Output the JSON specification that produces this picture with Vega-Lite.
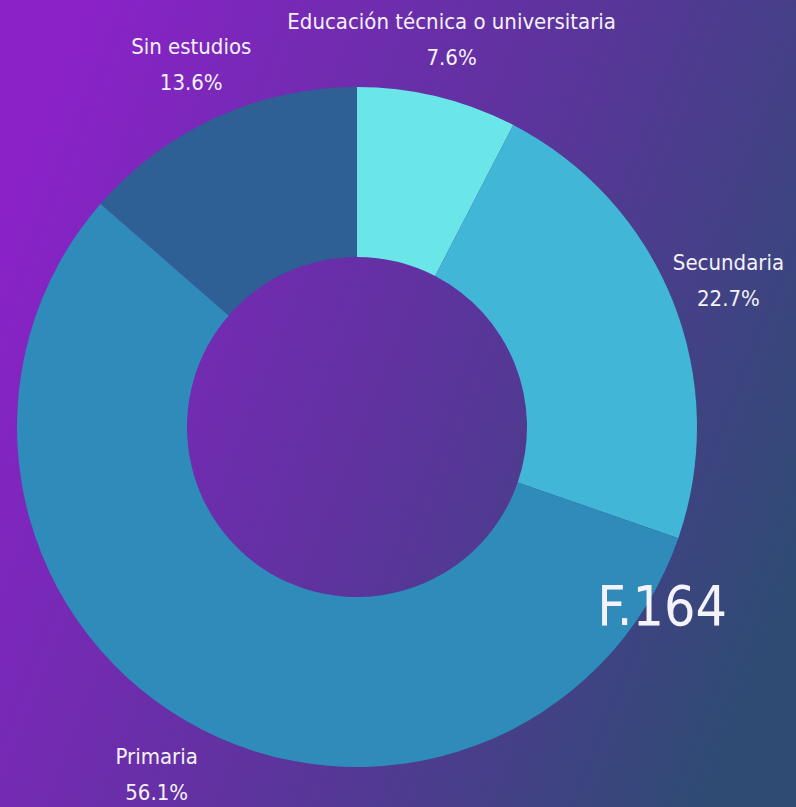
{
  "$schema": "https://vega.github.io/schema/vega-lite/v6.json",
  "width": 796,
  "height": 807,
  "autosize": {"type": "fit", "contains": "padding"},
  "padding": 0,
  "background": "#5a3a9c",
  "config": {"view": {"stroke": null}},
  "data": {
    "values": [
      {"nivel": "Educación técnica o universitaria", "pct": 7.6, "etiqueta": "7.6%", "orden": 1},
      {"nivel": "Secundaria", "pct": 22.7, "etiqueta": "22.7%", "orden": 2},
      {"nivel": "Primaria", "pct": 56.1, "etiqueta": "56.1%", "orden": 3},
      {"nivel": "Sin estudios", "pct": 13.6, "etiqueta": "13.6%", "orden": 4}
    ]
  },
  "layer": [
    {
      "mark": {
        "type": "rect",
        "color": {
          "gradient": "linear",
          "x1": 0, "y1": 0.3, "x2": 1, "y2": 0.7,
          "stops": [
            {"offset": 0, "color": "#8a22c8"},
            {"offset": 0.5, "color": "#5e339e"},
            {"offset": 1, "color": "#2f4b74"}
          ]
        }
      },
      "encoding": {}
    },
    {
      "mark": {"type": "arc", "outerRadius": 340, "innerRadius": 170},
      "encoding": {
        "theta": {"field": "pct", "type": "quantitative", "stack": true},
        "order": {"field": "orden", "type": "quantitative"},
        "x": {"value": 357},
        "y": {"value": 427},
        "color": {
          "field": "nivel",
          "type": "nominal",
          "legend": null,
          "scale": {
            "domain": ["Educación técnica o universitaria", "Secundaria", "Primaria", "Sin estudios"],
            "range": ["#6ae6e8", "#42b6d6", "#2e8bba", "#2e6096"]
          }
        }
      }
    },
    {
      "mark": {"type": "text", "radius": 400, "font": "'DejaVu Sans Condensed', 'Liberation Sans Narrow', 'Noto Sans', sans-serif", "fontSize": 22, "color": "#f4f2fa", "align": "center", "baseline": "alphabetic", "dy": -9},
      "encoding": {
        "theta": {"field": "pct", "type": "quantitative", "stack": true},
        "order": {"field": "orden", "type": "quantitative"},
        "x": {"value": 357},
        "y": {"value": 427},
        "text": {"field": "nivel"}
      }
    },
    {
      "mark": {"type": "text", "radius": 400, "font": "'DejaVu Sans Condensed', 'Liberation Sans Narrow', 'Noto Sans', sans-serif", "fontSize": 22, "color": "#f4f2fa", "align": "center", "baseline": "alphabetic", "dy": 27},
      "encoding": {
        "theta": {"field": "pct", "type": "quantitative", "stack": true},
        "order": {"field": "orden", "type": "quantitative"},
        "x": {"value": 357},
        "y": {"value": 427},
        "text": {"field": "etiqueta"}
      }
    },
    {
      "data": {"values": [{"marca": "F.164"}]},
      "mark": {"type": "text", "font": "'DejaVu Sans Condensed', 'Liberation Sans Narrow', 'Noto Sans', sans-serif", "fontSize": 55, "color": "#f4f2fa", "align": "center", "baseline": "alphabetic"},
      "encoding": {
        "x": {"value": 662},
        "y": {"value": 625},
        "text": {"field": "marca"}
      }
    }
  ]
}
